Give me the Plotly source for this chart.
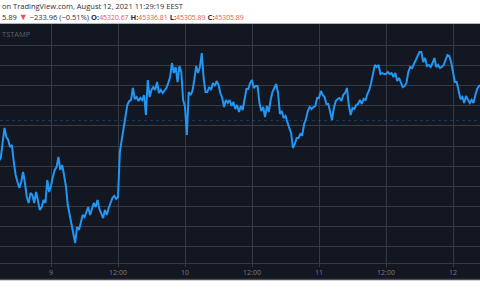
import plotly.graph_objects as go
import pandas as pd

# BTC/USD (Bitstamp), 20-minute closes
start_time = "2021-08-08 14:40"
price = [
    44500, 44563, 44860, 45157, 44978, 44919, 44780, 44820, 44483, 44226,
    44087, 43969, 44087, 44285, 44067, 43790, 43671, 43869, 43830, 43671,
    43889, 43731, 43533, 43592, 43731, 43671, 44127, 43889, 44008, 44186,
    44325, 44384, 44582, 44325, 44424, 44226, 44008, 43632, 43434, 43236,
    43038, 42880, 43196, 43137, 43275, 43434, 43394, 43493, 43592, 43434,
    43572, 43671, 43592, 43731, 43553, 43473, 43374, 43533, 43434, 43572,
    43691, 43770, 43810, 43751, 43790, 44681, 44919, 45176, 45414, 45612,
    45691, 45711, 45949, 45731, 45770, 45691, 45751, 45711, 45810, 45414,
    46107, 45770, 45909, 45968, 45909, 46067, 45850, 45909, 45850, 45889,
    45949, 46048, 46166, 46443, 46245, 46364, 46067, 46384, 46265, 45711,
    45572, 45018, 45869, 45810, 45889, 46107, 46384, 46245, 46364, 46641,
    46147, 45869, 45869, 45968, 45909, 46048, 45988, 46087, 46008, 45850,
    45751, 45572, 45711, 45652, 45711, 45592, 45671, 45533, 45612, 45473,
    45592, 45513, 45711, 45929, 45929, 46048, 46107, 45949, 45988, 45988,
    45652, 45493, 45572, 45374, 45592, 45473, 45711, 45869, 45949, 46028,
    45850, 45434, 45493, 45355, 45394, 45256, 45157, 45058, 44761, 44840,
    44959, 44959, 45038, 45018, 45236, 45335, 45493, 45572, 45533, 45572,
    45592, 45751, 45751, 45889, 45810, 45770, 45632, 45632, 45454, 45315,
    45553, 45691, 45731, 45751, 45691, 45810, 45850, 45949, 45612, 45414,
    45553, 45533, 45612, 45632, 45711, 45632, 45731, 45711, 45830, 45909,
    46048, 46206, 46404, 46364, 46404, 46225, 46245, 46225, 46225, 46265,
    46225, 46245, 46166, 46245, 46087, 46147, 46048, 45968, 45988, 46048,
    46265, 46364, 46344, 46423, 46503, 46562, 46661, 46661, 46463, 46542,
    46384, 46404, 46364, 46443, 46542, 46364, 46404, 46344, 46364, 46404,
    46503, 46602, 46582, 46463, 46265, 46067, 46067, 45889, 45731, 45770,
    45652, 45790, 45731, 45652, 45711, 45652, 45810, 45929, 45988, 46008,
]
last_price = 45305.89

tick_times = ["2021-08-09 00:00", "2021-08-09 12:00", "2021-08-10 00:00",
              "2021-08-10 12:00", "2021-08-11 00:00", "2021-08-11 12:00",
              "2021-08-12 00:00"]
tick_labels = ["9", "12:00", "10", "12:00", "11", "12:00", "12"]
price_grid = list(range(42800, 47200, 400))

header_line1 = "on TradingView.com, August 12, 2021 11:29:19 EEST"
header_change = "−233.96 (−0.51%)"
ohlc_labels = ["O:", "H:", "L:", "C:"]
ohlc_values = ["45320.67", "45336.81", "45305.89", "45305.89"]
exchange_label = "TSTAMP"

BG = "#131722"
GRID = "#363a45"
LINE = "#2196f3"
RED = "#ef5350"

times = pd.date_range(start_time, periods=len(price), freq="20min")

W, H = 480, 300
TOP, BOTTOM = 24, 263  # plot area in pixels


def py(px):
    return (BOTTOM - px) / (BOTTOM - TOP)


fig = go.Figure()
fig.add_trace(go.Scatter(x=times, y=price, mode="lines",
                         line=dict(color=LINE, width=2), hoverinfo="skip"))

# current price dotted line
fig.add_shape(type="line", xref="paper", yref="y", x0=0, x1=1,
              y0=last_price, y1=last_price,
              line=dict(color="rgba(33,150,243,0.28)", width=1, dash="dot"))

# dark panel behind the time axis
fig.add_shape(type="rect", xref="paper", yref="paper", x0=0, x1=1,
              y0=py(279), y1=py(263), fillcolor=BG, line_width=0, layer="below")
# bottom border
fig.add_shape(type="line", xref="paper", yref="paper", x0=0, x1=1,
              y0=py(279.5), y1=py(279.5), line=dict(color="#4a4e59", width=1.5))
# top border
fig.add_shape(type="line", xref="paper", yref="paper", x0=0, x1=1,
              y0=py(23.5), y1=py(23.5), line=dict(color="#b2b5be", width=1))

line2 = ("5.89 <span style='color:%s;font-size:9px'>▼</span> %s " % (RED, header_change)
         + " ".join("<b>%s</b><span style='color:%s;font-size:6.9px'>%s</span>" % (l, RED, v)
                    for l, v in zip(ohlc_labels, ohlc_values)))

fig.add_annotation(text=header_line1, xref="paper", yref="paper", x=0, y=py(6.5),
                   xanchor="left", yanchor="middle", showarrow=False,
                   font=dict(family="Open Sans", size=7.5, color="#2a2e39"))
fig.add_annotation(text=line2, xref="paper", yref="paper", x=0, y=py(16.5),
                   xanchor="left", yanchor="middle", showarrow=False,
                   font=dict(family="Open Sans", size=7.5, color="#2a2e39"))
fig.add_annotation(text=exchange_label, xref="paper", yref="paper", x=0, y=py(33.5),
                   xanchor="left", yanchor="middle", showarrow=False,
                   font=dict(family="Open Sans", size=7.5, color="#5d606b"))

fig.update_layout(
    width=W, height=H,
    margin=dict(l=0, r=0, t=TOP, b=H - BOTTOM, pad=0),
    paper_bgcolor="white", plot_bgcolor=BG,
    showlegend=False,
    xaxis=dict(range=["2021-08-08 14:51:57", "2021-08-12 04:50:09"],
               tickmode="array", tickvals=tick_times, ticktext=tick_labels,
               tickfont=dict(family="Open Sans", size=7, color="#787b86"),
               showgrid=True, gridcolor=GRID, gridwidth=1,
               ticks="outside", ticklen=3, tickcolor=GRID,
               showline=True, linecolor=GRID, linewidth=1,
               zeroline=False, fixedrange=True),
    yaxis=dict(range=[42483, 47216], tickmode="array", tickvals=price_grid,
               showticklabels=False, showgrid=True, gridcolor=GRID, gridwidth=1,
               zeroline=False, ticks="", fixedrange=True),
)

fig.write_html("out.html", config={"displayModeBar": False})
